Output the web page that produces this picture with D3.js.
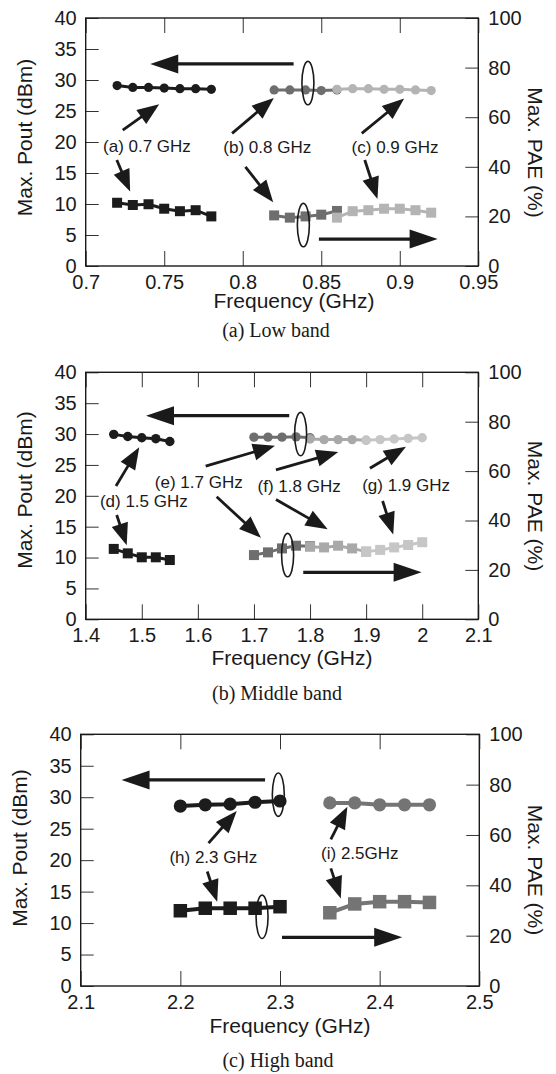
<!DOCTYPE html>
<html>
<head>
<meta charset="utf-8">
<script src="https://cdn.jsdelivr.net/npm/d3@7"></script>
<style>
  body { margin: 0; background: #fff; }
</style>
</head>
<body>
<div id="chart"></div>
<script>
// ---- data ----
var poutTicks = [0, 5, 10, 15, 20, 25, 30, 35, 40];
var paeTicks = [0, 20, 40, 60, 80, 100];
var lowTicks = [0.7, 0.75, 0.8, 0.85, 0.9, 0.95];
var midTicks = [1.4, 1.5, 1.6, 1.7, 1.8, 1.9, 2.0, 2.1];
var highTicks = [2.1, 2.2, 2.3, 2.4, 2.5];

// (a) low band
var freqA = [0.72, 0.73, 0.74, 0.75, 0.76, 0.77, 0.78];
var poutA = [29.1, 28.8, 28.8, 28.7, 28.6, 28.6, 28.5];
var paeA = [25.5, 24.6, 24.9, 23.1, 22.1, 22.5, 20.0];
var freqB = [0.82, 0.83, 0.84, 0.85, 0.86];
var poutB = [28.4, 28.4, 28.4, 28.3, 28.4];
var paeB = [20.4, 19.5, 20.0, 20.7, 22.2];
var freqC = [0.86, 0.87, 0.88, 0.89, 0.90, 0.91, 0.92];
var poutC = [28.5, 28.6, 28.6, 28.5, 28.5, 28.4, 28.3];
var paeC = [19.5, 22.1, 22.5, 23.1, 23.1, 22.5, 21.5];

// (b) middle band
var freqD = [1.45, 1.475, 1.5, 1.525, 1.55];
var poutD = [29.95, 29.6, 29.4, 29.25, 28.8];
var paeD = [28.5, 26.7, 25.1, 25.1, 24.0];
var freqE = [1.7, 1.725, 1.75, 1.775, 1.8];
var poutE = [29.5, 29.5, 29.5, 29.55, 29.4];
var paeE = [26.0, 27.1, 28.7, 29.8, 29.6];
var freqF = [1.8, 1.825, 1.85, 1.875, 1.9];
var poutF = [29.2, 29.1, 29.1, 29.1, 29.0];
var paeF = [29.4, 29.1, 29.8, 28.7, 27.4];
var freqG = [1.9, 1.925, 1.95, 1.975, 2.0];
var poutG = [29.0, 29.1, 29.2, 29.3, 29.4];
var paeG = [27.4, 28.1, 29.1, 30.1, 31.2];

// (c) high band
var freqH = [2.2, 2.225, 2.25, 2.275, 2.3];
var poutH = [28.6, 28.8, 28.9, 29.2, 29.4];
var paeH = [29.9, 30.9, 30.9, 30.9, 31.5];
var freqI = [2.35, 2.375, 2.4, 2.425, 2.45];
var poutI = [29.1, 29.1, 28.8, 28.8, 28.8];
var paeI = [29.1, 32.6, 33.5, 33.5, 33.2];

// annotation anchors, in data units [freq, dBm]
var lowLabels = [["(a) 0.7 GHz", 0.739, 18.4], ["(b) 0.8 GHz", 0.8156, 18.2], ["(c) 0.9 GHz", 0.897, 18.2]];
var lowArrows = [[0.7236, 21.9, 0.7468, 26.1], [0.7198, 17.1, 0.7283, 12.0],
                 [0.7932, 21.4, 0.8198, 27.1], [0.8017, 16.0, 0.8194, 10.3],
                 [0.8758, 21.4, 0.9028, 27.0], [0.8777, 17.1, 0.8858, 10.8]];
var lowAxisArrows = [[0.8324, 32.6, 0.7411, 32.6], [0.8485, 4.35, 0.9241, 4.35]];
var lowRings = [[0.8415, 29.5], [0.8386, 6.6]];

var midLabels = [["(d) 1.5 GHz", 1.5036, 18.2], ["(e) 1.7 GHz", 1.6016, 21.2], ["(f) 1.8 GHz", 1.7806, 20.6], ["(g) 1.9 GHz", 1.9713, 20.8]];
var midArrows = [[1.454, 21.6, 1.4955, 27.85], [1.4553, 16.9, 1.4731, 12.0],
                 [1.6139, 24.8, 1.7374, 28.1], [1.6335, 19.85, 1.7125, 13.2],
                 [1.7392, 24.2, 1.8503, 27.1], [1.7392, 19.4, 1.8314, 14.6],
                 [1.9068, 24.45, 1.971, 27.95], [1.9294, 19.16, 1.9483, 13.75]];
var midAxisArrows = [[1.7629, 32.97, 1.5075, 32.97], [1.7879, 7.6, 1.9989, 7.6]];
var midRings = [[1.7832, 30.0], [1.76, 10.4]];

var highLabels = [["(h) 2.3 GHz", 2.2331, 19.5], ["(i) 2.5GHz", 2.3801, 20.2]];
var highArrows = [[2.2283, 22.7, 2.2566, 27.8], [2.227, 18.2, 2.237, 13.4],
                  [2.351, 23.3, 2.3676, 28.5], [2.351, 18.7, 2.361, 13.9]];
var highAxisArrows = [[2.285, 32.75, 2.141, 32.75], [2.302, 7.74, 2.4226, 7.74]];
var highRings = [[2.2983, 30.4], [2.282, 11.0]];

var sans = "'Liberation Sans', Arial, sans-serif";
var serif = "'Liberation Serif', 'Times New Roman', serif";

var svg = d3.select("#chart").append("svg")
  .attr("width", 556)
  .attr("height", 1074)
  .style("background", "#fff");

var panels = [
  { left: 85.7, right: 478.3, top: 18, bottom: 266, xDomain: [0.7, 0.95], xTicks: lowTicks,
    series: [
      { f: freqA, p: poutA, e: paeA, color: "#1c1c1c" },
      { f: freqB, p: poutB, e: paeB, color: "#6e6e6e" },
      { f: freqC, p: poutC, e: paeC, color: "#b4b4b4" }],
    r: 4.6, sq: 10, lw: 3,
    labels: lowLabels, arrows: lowArrows, axisArrows: lowAxisArrows, rings: lowRings,
    yTitle: [25, 137.5], y2Title: [535, 152.5], xTitle: [294, 308.3], caption: "(a) Low band", capPos: [276, 336.7] },
  { left: 85.7, right: 478.3, top: 372.3, bottom: 619.3, xDomain: [1.4, 2.1], xTicks: midTicks,
    series: [
      { f: freqD, p: poutD, e: paeD, color: "#1c1c1c" },
      { f: freqE, p: poutE, e: paeE, color: "#6e6e6e" },
      { f: freqF, p: poutF, e: paeF, color: "#a9a9a9" },
      { f: freqG, p: poutG, e: paeG, color: "#c6c6c6" }],
    r: 4.7, sq: 10, lw: 3,
    labels: midLabels, arrows: midArrows, axisArrows: midAxisArrows, rings: midRings,
    yTitle: [25, 490], y2Title: [535, 506], xTitle: [292, 665], caption: "(b) Middle band", capPos: [277, 700] },
  { left: 80.7, right: 479.3, top: 734.3, bottom: 986, xDomain: [2.1, 2.5], xTicks: highTicks,
    series: [
      { f: freqH, p: poutH, e: paeH, color: "#1c1c1c" },
      { f: freqI, p: poutI, e: paeI, color: "#747474" }],
    r: 6.6, sq: 13.5, lw: 4,
    labels: highLabels, arrows: highArrows, axisArrows: highAxisArrows, rings: highRings,
    yTitle: [20, 848], y2Title: [535, 870], xTitle: [290, 1033.3], caption: "(c) High band", capPos: [278, 1067.3] }
];

// line + filled triangle head
function arrow(g, x1, y1, x2, y2, headLen, headW, sw) {
  var ang = Math.atan2(y2 - y1, x2 - x1);
  var bx = x2 - headLen * Math.cos(ang), by = y2 - headLen * Math.sin(ang);
  var nx = -Math.sin(ang) * headW / 2, ny = Math.cos(ang) * headW / 2;
  g.append("line")
    .attr("x1", x1).attr("y1", y1)
    .attr("x2", bx + headLen * 0.2 * Math.cos(ang)).attr("y2", by + headLen * 0.2 * Math.sin(ang))
    .attr("stroke", "#1a1a1a")
    .attr("stroke-width", sw);
  g.append("path")
    .attr("d", `M${x2},${y2}L${bx + nx},${by + ny}L${bx - nx},${by - ny}Z`)
    .attr("fill", "#1a1a1a");
}

function styleAxis(g, size) {
  g.select(".domain").remove();
  g.selectAll(".tick line").attr("stroke", "#333").attr("stroke-width", 1);
  g.selectAll(".tick text").attr("fill", "#1a1a1a").style("font-family", sans).style("font-size", size + "px");
}

panels.forEach(function (p) {
  var x = d3.scaleLinear().domain(p.xDomain).range([p.left, p.right]);
  var y = d3.scaleLinear().domain([0, 40]).range([p.bottom, p.top]);
  var y2 = d3.scaleLinear().domain([0, 100]).range([p.bottom, p.top]);
  var g = svg.append("g");

  // axes, ticks pointing inward on all four sides
  g.append("g").attr("transform", `translate(${p.left},0)`)
    .call(d3.axisLeft(y).tickValues(poutTicks).tickSize(-13).tickPadding(9).tickFormat(d3.format("d")))
    .call(styleAxis, 20);
  g.append("g").attr("transform", `translate(${p.right},0)`)
    .call(d3.axisRight(y2).tickValues(paeTicks).tickSize(-13).tickPadding(10).tickFormat(d3.format("d")))
    .call(styleAxis, 20);
  g.append("g").attr("transform", `translate(0,${p.bottom})`)
    .call(d3.axisBottom(x).tickValues(p.xTicks).tickSize(-15).tickPadding(9).tickFormat(d => String(d)))
    .call(styleAxis, 20);
  g.append("g").attr("transform", `translate(0,${p.top})`)
    .call(d3.axisTop(x).tickValues(p.xTicks).tickSize(-15).tickFormat(""))
    .call(styleAxis, 20);

  g.append("rect")
    .attr("x", p.left).attr("y", p.top)
    .attr("width", p.right - p.left).attr("height", p.bottom - p.top)
    .attr("fill", "none").attr("stroke", "#1a1a1a").attr("stroke-width", 1.4);

  // series: circles = Pout (left), squares = PAE (right)
  p.series.forEach(function (s) {
    var pts = s.f.map((f, i) => [f, s.p[i]]);
    var pae = s.f.map((f, i) => [f, s.e[i]]);
    g.append("path")
      .attr("d", d3.line().x(d => x(d[0])).y(d => y(d[1]))(pts))
      .attr("fill", "none").attr("stroke", s.color).attr("stroke-width", p.lw);
    g.selectAll(null).data(pts).join("circle")
      .attr("cx", d => x(d[0])).attr("cy", d => y(d[1]))
      .attr("r", p.r).attr("fill", s.color);
    g.append("path")
      .attr("d", d3.line().x(d => x(d[0])).y(d => y2(d[1]))(pae))
      .attr("fill", "none").attr("stroke", s.color).attr("stroke-width", p.lw);
    g.selectAll(null).data(pae).join("rect")
      .attr("x", d => x(d[0]) - p.sq / 2).attr("y", d => y2(d[1]) - p.sq / 2)
      .attr("width", p.sq).attr("height", p.sq).attr("fill", s.color);
  });

  // annotations
  p.rings.forEach(function (r) {
    g.append("ellipse")
      .attr("cx", x(r[0])).attr("cy", y(r[1]))
      .attr("rx", 6).attr("ry", 21.7)
      .attr("fill", "none").attr("stroke", "#1a1a1a").attr("stroke-width", 1.6);
  });
  p.axisArrows.forEach(function (a) {
    arrow(g, x(a[0]), y(a[1]), x(a[2]), y(a[3]), 28, 19, 3.2);
  });
  p.arrows.forEach(function (a) {
    arrow(g, x(a[0]), y(a[1]), x(a[2]), y(a[3]), 22, 17, 2.8);
  });
  p.labels.forEach(function (l) {
    g.append("text")
      .attr("x", x(l[1])).attr("y", y(l[2]))
      .attr("text-anchor", "middle")
      .style("font-family", sans).style("font-size", "17px")
      .attr("fill", "#1a1a1a")
      .text(l[0]);
  });

  // titles
  g.append("text")
    .attr("transform", `translate(${p.yTitle[0]},${p.yTitle[1]}) rotate(-90)`)
    .attr("text-anchor", "middle").attr("dy", "0.35em")
    .style("font-family", sans).style("font-size", "21px").attr("fill", "#1a1a1a")
    .text("Max. Pout (dBm)");
  g.append("text")
    .attr("transform", `translate(${p.y2Title[0]},${p.y2Title[1]}) rotate(90)`)
    .attr("text-anchor", "middle").attr("dy", "0.35em")
    .style("font-family", sans).style("font-size", "21px").attr("fill", "#1a1a1a")
    .text("Max. PAE (%)");
  g.append("text")
    .attr("x", p.xTitle[0]).attr("y", p.xTitle[1])
    .attr("text-anchor", "middle")
    .style("font-family", sans).style("font-size", "21px").attr("fill", "#1a1a1a")
    .text("Frequency (GHz)");
  g.append("text")
    .attr("x", p.capPos[0]).attr("y", p.capPos[1])
    .attr("text-anchor", "middle")
    .style("font-family", serif).style("font-size", "20px").attr("fill", "#1a1a1a")
    .text(p.caption);
});
</script>
</body>
</html>
